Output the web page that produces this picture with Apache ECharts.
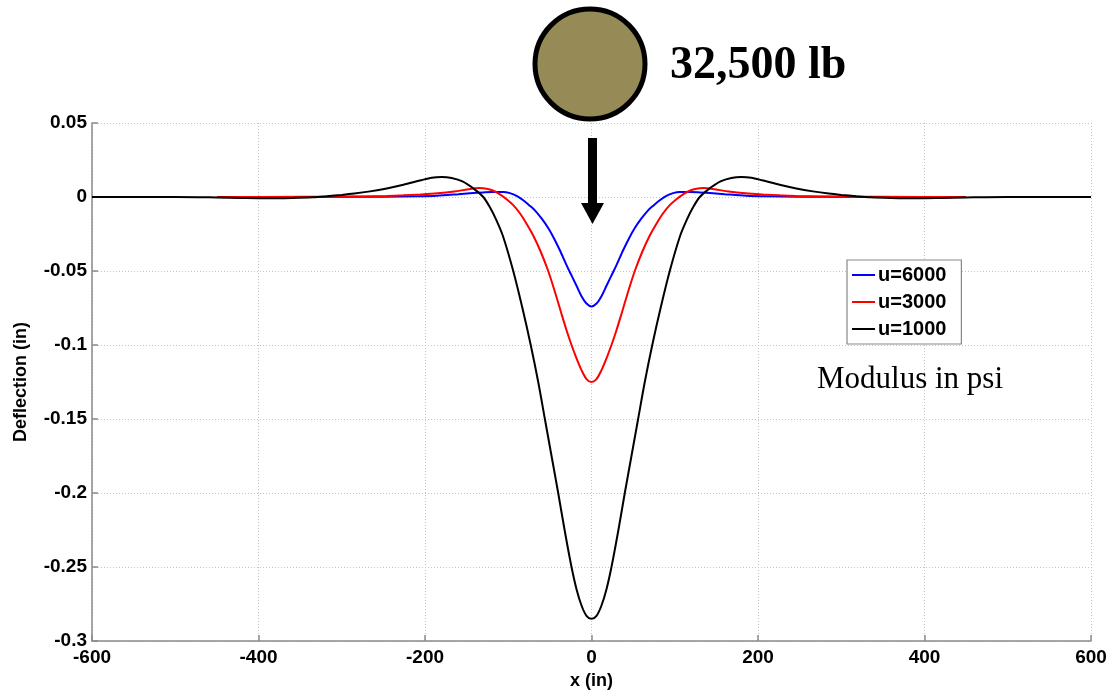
<!DOCTYPE html>
<html>
<head>
<meta charset="utf-8">
<script src="https://cdn.jsdelivr.net/npm/echarts@6/dist/echarts.min.js"></script>
<style>
  html, body { margin: 0; padding: 0; background: #fff; }
  #chart { width: 1115px; height: 691px; }
</style>
</head>
<body>
<div id="chart"></div>
<script>
// ---- data ----
const seriesNames = ['u=6000', 'u=3000', 'u=1000'];

const blueX = [-330,-250,-210,-186,-160,-146,-130,-118,-106,-98,-90,-82,-75,-68,-60,-52,-45,-38,-30,-24,-18,-12,-6,0,
               6,12,18,24,30,38,45,52,60,68,75,82,90,98,106,118,130,146,160,186,210,250,330];
const blueY = [0,0.0002,0.0005,0.0009,0.0019,0.0025,0.0031,0.0034,0.0034,0.0026,0.0008,-0.0022,-0.0055,-0.009,-0.0145,-0.021,-0.028,-0.036,-0.046,-0.053,-0.060,-0.067,-0.072,-0.074,
               -0.072,-0.067,-0.060,-0.053,-0.046,-0.036,-0.028,-0.021,-0.0145,-0.009,-0.0055,-0.0022,0.0008,0.0026,0.0034,0.0034,0.0031,0.0025,0.0019,0.0009,0.0005,0.0002,0];

const redX = [-450,-350,-300,-275,-246,-226,-206,-185,-165,-148,-135,-126,-118,-110,-102,-94,-86,-78,-70,-61,-52,-44,-36,-30,-24,-18,-12,-6,0,
              6,12,18,24,30,36,44,52,61,70,78,86,94,102,110,118,126,135,148,165,185,206,226,246,275,300,350,450];
const redY = [0,0.0001,0.0002,0.0004,0.0007,0.0011,0.0017,0.0025,0.0037,0.0052,0.006,0.0056,0.0042,0.0018,-0.0015,-0.0055,-0.011,-0.018,-0.026,-0.037,-0.050,-0.064,-0.079,-0.090,-0.100,-0.109,-0.117,-0.123,-0.125,
              -0.123,-0.117,-0.109,-0.100,-0.090,-0.079,-0.064,-0.050,-0.037,-0.026,-0.018,-0.011,-0.0055,-0.0015,0.0018,0.0042,0.0056,0.006,0.0052,0.0037,0.0025,0.0017,0.0011,0.0007,0.0004,0.0002,0.0001,0];

const blackX = [-600,-500,-450,-420,-390,-360,-335,-318,-300,-285,-266,-246,-226,-205,-192,-180,-168,-155,-140,-130,-122,-114,-106,-94,-83,-73,-64,-56,-48,-40,-32,-24,-18,-12,-6,0,
                6,12,18,24,32,40,48,56,64,73,83,94,106,114,122,130,140,155,168,180,192,205,226,246,266,285,300,318,335,360,390,420,450,500,600];
const blackY = [0,0,-0.0003,-0.0006,-0.0008,-0.0006,-0.0002,0.0005,0.0014,0.0023,0.0038,0.0058,0.0083,0.0113,0.013,0.0135,0.0128,0.0105,0.005,0,-0.007,-0.016,-0.027,-0.050,-0.075,-0.100,-0.125,-0.150,-0.175,-0.200,-0.226,-0.250,-0.265,-0.276,-0.283,-0.285,
                -0.283,-0.276,-0.265,-0.250,-0.226,-0.200,-0.175,-0.150,-0.125,-0.100,-0.075,-0.050,-0.027,-0.016,-0.007,0,0.005,0.0105,0.0128,0.0135,0.013,0.0113,0.0083,0.0058,0.0038,0.0023,0.0014,0.0005,-0.0002,-0.0006,-0.0008,-0.0006,-0.0003,0,0];

const xTicks = [-600, -400, -200, 0, 200, 400, 600];
const yTicks = [0.05, 0, -0.05, -0.1, -0.15, -0.2, -0.25, -0.3];
const loadLabel = '32,500 lb';
const noteLabel = 'Modulus in psi';

// ---- build ----
function pairs(xs, ys) { return xs.map((x, i) => [x, ys[i]]); }
const colors = ['#0000ff', '#ff0000', '#000000'];
const dataSets = [pairs(blueX, blueY), pairs(redX, redY), pairs(blackX, blackY)];

const labelFont = { fontFamily: 'Liberation Sans', fontWeight: 'bold', fontSize: 19, color: '#000' };
const axisGray = '#8a8a8a';

const chart = echarts.init(document.getElementById('chart'), null, { renderer: 'canvas' });
chart.setOption({
  animation: false,
  backgroundColor: '#ffffff',
  grid: { left: 92, right: 24, top: 123, bottom: 50, outerBoundsMode: 'none', containLabel: false },
  xAxis: {
    type: 'value',
    min: xTicks[0], max: xTicks[xTicks.length - 1], interval: 200,
    name: 'x (in)', nameLocation: 'middle', nameGap: 31,
    nameTextStyle: Object.assign({}, labelFont, { fontSize: 18 }),
    axisLine: { show: true, onZero: false, lineStyle: { color: axisGray, width: 1.5 } },
    axisTick: { show: true, inside: true, length: 6, lineStyle: { color: axisGray, width: 1.5 } },
    axisLabel: Object.assign({}, labelFont, { margin: 7 }),
    splitLine: { show: true, lineStyle: { color: '#c4c4c4', type: [1, 2], width: 1 } }
  },
  yAxis: {
    type: 'value',
    min: yTicks[yTicks.length - 1], max: yTicks[0], interval: 0.05,
    name: 'Deflection (in)', nameLocation: 'middle', nameGap: 62,
    nameTextStyle: Object.assign({}, labelFont, { fontSize: 18 }),
    axisLine: { show: true, onZero: false, lineStyle: { color: axisGray, width: 1.5 } },
    axisTick: { show: true, inside: true, length: 6, lineStyle: { color: axisGray, width: 1.5 } },
    axisLabel: Object.assign({}, labelFont, {
      margin: 5,
      formatter: v => String(Math.round(v * 100) / 100)
    }),
    splitLine: { show: true, lineStyle: { color: '#c4c4c4', type: [1, 2], width: 1 } }
  },
  legend: {
    orient: 'vertical',
    left: 847, top: 260,
    data: seriesNames,
    icon: 'rect',
    itemWidth: 23, itemHeight: 2,
    itemGap: 7,
    padding: [5, 15, 5, 5],
    borderColor: '#888', borderWidth: 1.2, backgroundColor: '#fff',
    textStyle: { fontFamily: 'Liberation Sans', fontWeight: 'bold', fontSize: 20, color: '#000', lineHeight: 20, padding: [0, 0, 0, -2] }
  },
  series: seriesNames.map((n, i) => ({
    name: n, type: 'line', data: dataSets[i],
    smooth: 0.3, showSymbol: false, symbol: 'none',
    lineStyle: { color: colors[i], width: 2 },
    itemStyle: { color: colors[i] },
    z: 2 + i
  })),
  graphic: [
    { type: 'circle', shape: { cx: 590, cy: 64, r: 55 },
      style: { fill: '#968b57', stroke: '#000', lineWidth: 5 }, z: 10 },
    { type: 'text', left: 670, top: 43, z: 10,
      style: { text: loadLabel, fontFamily: 'Liberation Serif', fontWeight: 'bold', fontSize: 46, fill: '#000' } },
    { type: 'rect', shape: { x: 588, y: 138, width: 9, height: 66 }, style: { fill: '#000' }, z: 10 },
    { type: 'polygon', shape: { points: [[581, 203], [604, 203], [592.5, 224]] }, style: { fill: '#000' }, z: 10 },
    { type: 'text', left: 817, top: 364, z: 10,
      style: { text: noteLabel, fontFamily: 'Liberation Serif', fontSize: 31, fill: '#000' } }
  ]
});
</script>
</body>
</html>
